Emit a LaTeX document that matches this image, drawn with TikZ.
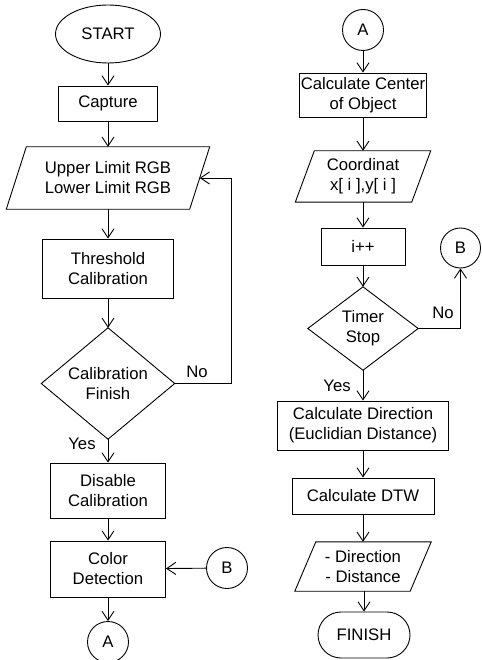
\documentclass[tikz,border=0pt]{standalone}
\usepackage{fontspec}
\setmainfont{Liberation Sans}
\usetikzlibrary{shapes.geometric,arrows.meta}

\tikzset{
  x=1pt, y=-1pt,
  every node/.style={font=\fontsize{16.7}{20}\selectfont, align=center, inner sep=0pt},
  line/.style={line width=0.9pt, draw=black},
  flow/.style={line, -{Straight Barb[length=9pt,width=12pt,line width=0.9pt]}},
  procbox/.style={line, rectangle},
  terminal/.style={line, ellipse},
  pillbox/.style={line, rectangle, rounded corners=23pt},
  connector/.style={line, circle, minimum size=41pt},
  % bounding frame for slanted and diamond outlines, drawn afterwards
  frame/.style={rectangle},
  lbl/.style={}
}

% parallelogram outline around a frame node: #1 node name, #2 half slant
\newcommand\slantbox[2]{%
  \draw[line] ([xshift=#2]#1.north west) -- ([xshift=#2]#1.north east)
    -- ([xshift=-#2]#1.south east) -- ([xshift=-#2]#1.south west) -- cycle;}
% diamond outline around a frame node
\newcommand\decisionbox[1]{%
  \draw[line] (#1.north) -- (#1.east) -- (#1.south) -- (#1.west) -- cycle;}

\begin{document}
\begin{tikzpicture}
\useasboundingbox (0,0) rectangle (481,660);

% ---------- left column ----------
\node[terminal, minimum width=105pt, minimum height=58pt] (start) at (108,34) {START};
\node[procbox, minimum width=99pt, minimum height=35pt] (cap) at (108,103.5) {Capture};
\node[frame, minimum width=183pt, minimum height=62pt] (lim) at (108,178) {Upper Limit RGB\\Lower Limit RGB};
\slantbox{lim}{10pt}
\node[procbox, minimum width=131pt, minimum height=59pt] (thr) at (108,268.5) {Threshold\\Calibration};
\node[frame, minimum width=133pt, minimum height=111pt] (calfin) at (108,383.5) {Calibration\\Finish};
\decisionbox{calfin}
\node[procbox, minimum width=115pt, minimum height=55pt] (dis) at (108,490.5) {Disable\\Calibration};
\node[procbox, minimum width=115pt, minimum height=56pt] (col) at (108,569) {Color\\Detection};
\node[connector] (bin) at (227,568) {B};
\node[connector] (aout) at (108,642) {A};

\draw[flow] (start) -- (cap);
\draw[flow] (cap) -- (lim);
\draw[flow] (lim) -- (thr);
\draw[flow] (thr) -- (calfin.north);
\draw[flow] (calfin.south) -- (dis);
\draw[flow] (dis) -- (col);
\draw[flow] (col) -- (aout);
\draw[flow] (bin) -- (col);
\draw[flow] (calfin.east) -- ++(57,0) |- (lim.east);
\node[lbl] at (197,372) {No};
\node[lbl] at (82,444) {Yes};

% ---------- right column ----------
\node[connector] (ain) at (363,30) {A};
\node[procbox, minimum width=127pt, minimum height=44pt] (cen) at (363,95) {Calculate Center\\of Object};
\node[frame, minimum width=116pt, minimum height=51pt] (coord) at (363,176.5) {Coordinat\\x[ i ],y[ i ]};
\slantbox{coord}{9.5pt}
\node[procbox, minimum width=84pt, minimum height=37pt] (inc) at (363,246.5) {i++};
\node[frame, minimum width=110pt, minimum height=83pt] (timer) at (363,328.5) {Timer\\Stop};
\decisionbox{timer}
\node[connector, minimum size=40pt] (bout) at (460.5,248) {B};
\node[procbox, minimum width=171pt, minimum height=49pt] (dir) at (363,425.5) {Calculate Direction\\(Euclidian Distance)};
\node[procbox, minimum width=142pt, minimum height=36pt] (dtw) at (363,496) {Calculate DTW};
\node[frame, minimum width=115pt, minimum height=49pt] (res) at (363,566.5) {- Direction\\- Distance};
\slantbox{res}{10.5pt}
\node[pillbox, minimum width=92pt, minimum height=46pt] (fin) at (364,635) {FINISH};

\draw[flow] (ain) -- (cen);
\draw[flow] (cen) -- (coord);
\draw[flow] (coord) -- (inc);
\draw[flow] (inc) -- (timer.north);
\draw[flow] (timer.south) -- (dir);
\draw[flow] (dir) -- (dtw);
\draw[flow] (dtw) -- (res);
\draw[flow] (res.south -| fin.north) -- (fin);
\draw[flow] (timer.east) -| (bout.south);
\node[lbl] at (443,313) {No};
\node[lbl] at (337,386) {Yes};
\end{tikzpicture}
\end{document}
